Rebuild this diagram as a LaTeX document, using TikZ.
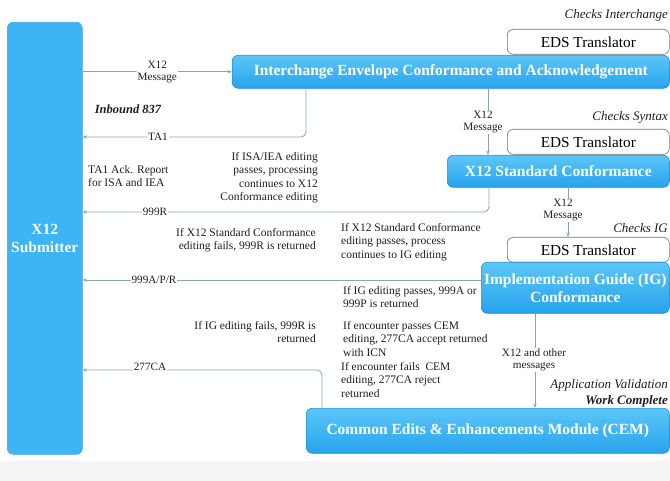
\documentclass[tikz,border=0pt]{standalone}
\usepackage{fontspec}
\setmainfont{Liberation Serif}
\usetikzlibrary{arrows.meta,calc}
\definecolor{boxtop}{HTML}{5CC6F8}
\definecolor{boxbot}{HTML}{27A3EC}
\definecolor{boxedge}{HTML}{1C8FD8}
\definecolor{subfill}{HTML}{3DB4F4}
\definecolor{linec}{HTML}{8AA3B3}
\definecolor{txt}{HTML}{1E1E1E}
\tikzset{
  bluebox/.style={draw=boxedge, line width=0.6pt, rounded corners=6pt, top color=boxtop, bottom color=boxbot,
    text=white, font=\bfseries\fontsize{15.5}{18}\selectfont, align=center, inner sep=0pt, anchor=north west},
  edsbox/.style={draw=black!55, line width=0.6pt, rounded corners=6pt, fill=white, text=black,
    font=\fontsize{15.3}{17}\selectfont, inner sep=0pt, anchor=north west},
  arr/.style={draw=linec, line width=0.8pt, -{Stealth[length=4.5pt,width=3.5pt]}, rounded corners=5pt},
  lbl/.style={fill=white, inner sep=1pt, text=txt, font=\fontsize{11.2}{12.5}\selectfont, align=center},
  note/.style={text=txt, font=\fontsize{11.5}{13.5}\selectfont, inner sep=0pt},
  itl/.style={text=txt, font=\itshape\fontsize{13}{15}\selectfont, inner sep=0pt, anchor=east},
}
\begin{document}
\begin{tikzpicture}[x=1pt,y=-1pt]
\useasboundingbox (0,0) rectangle (670,481);
\fill[black!4] (0,461) rectangle (670,481);
% boxes
\node[draw=boxedge!80, line width=0.6pt, rounded corners=6pt, fill=subfill, text=white,
  font=\bfseries\fontsize{15.5}{18}\selectfont, align=center, inner sep=0pt, anchor=north west,
  minimum width=75pt, minimum height=432pt] (sub) at (7,22) {X12\\Submitter};
\node[edsbox, minimum width=162pt, minimum height=25pt] (eds1) at (507,29) {EDS Translator};
\node[bluebox, minimum width=437pt, minimum height=33pt] (ice) at (232,55) {Interchange Envelope Conformance and Acknowledgement};
\node[edsbox, minimum width=162pt, minimum height=25pt] (eds2) at (507,129) {EDS Translator};
\node[bluebox, minimum width=222pt, minimum height=32pt] (std) at (447,155) {X12 Standard Conformance};
\node[edsbox, minimum width=162pt, minimum height=25pt] (eds3) at (507,237) {EDS Translator};
\node[bluebox, minimum width=188pt, minimum height=51pt] (ig) at (481,262) {Implementation Guide (IG)\\Conformance};
\node[bluebox, minimum width=363pt, minimum height=45pt] (cem) at (306,408) {Common Edits \& Enhancements Module (CEM)};
% italic captions
\node[itl] (c1) at (668,15) {Checks Interchange};
\node[itl] (c2) at (668,117) {Checks Syntax};
\node[itl] (c3) at (668,228) {Checks IG};
\node[itl] (c4) at (668,385) {Application Validation};
\node[itl, font=\bfseries\itshape\fontsize{13}{15}\selectfont] (c5) at (668,401) {Work Complete};
\node[text=txt, font=\bfseries\itshape\fontsize{12.5}{14}\selectfont, inner sep=0pt] (inb) at (128,109) {Inbound 837};
% connectors
\draw[arr] (sub.east |- ice.west) -- (ice.west) node[lbl, midway] (m1) {X12\\Message};
\draw[arr] ([xshift=74pt]ice.south west) |- (sub.east |- 0,137);
\node[lbl] (l1) at (158,137) {TA1};
\draw[arr] (ice.south -| 488,0) -- (std.north -| 488,0);
\node[lbl] (m2) at (483,122) {X12\\Message};
\draw[arr] ([xshift=42pt]std.south west) |- (sub.east |- 0,212);
\node[lbl] (l2) at (155,212) {999R};
\draw[arr] (std.south -| 568,0) -- (eds3.north -| 568,0);
\node[lbl] (m3) at (563,210) {X12\\Message};
\draw[arr] (ig.west |- 0,280) -- (sub.east |- 0,280);
\node[lbl] (l3) at (154,280) {999A/P/R};
\draw[arr] ([xshift=16pt]cem.north west) |- (sub.east |- 0,370);
\node[lbl, inner ysep=0pt] (l4) at (150,367) {277CA};
\draw[arr] (ig.south -| 535,0) -- (cem.north -| 535,0);
\node[lbl] (m4) at (534,360) {X12 and other\\messages};
% notes
\node[note, anchor=north west, align=left] (n1) at (88,165) {TA1 Ack. Report\\for ISA and IEA};
\node[note, anchor=north east, align=right] (n2) at (318,152) {If ISA/IEA editing\\passes, processing\\continues to X12\\Conformance editing};
\node[note, anchor=north east, align=right] (n3) at (316,228) {If X12 Standard Conformance\\editing fails, 999R is returned};
\node[note, anchor=north west, align=left] (n4) at (341,223) {If X12 Standard Conformance\\editing passes, process\\continues to IG editing};
\node[note, anchor=north west, align=left] (n5) at (343,286) {If IG editing passes, 999A or\\999P is returned};
\node[note, anchor=north east, align=right] (n6) at (316,321) {If IG editing fails, 999R is\\returned};
\node[note, anchor=north west, align=left] (n7) at (343,321) {If encounter passes CEM\\editing, 277CA accept returned\\with ICN};
\node[note, anchor=north west, align=left] (n8) at (341,362) {If encounter fails\ \ CEM\\editing, 277CA reject\\returned};
\end{tikzpicture}
\end{document}
